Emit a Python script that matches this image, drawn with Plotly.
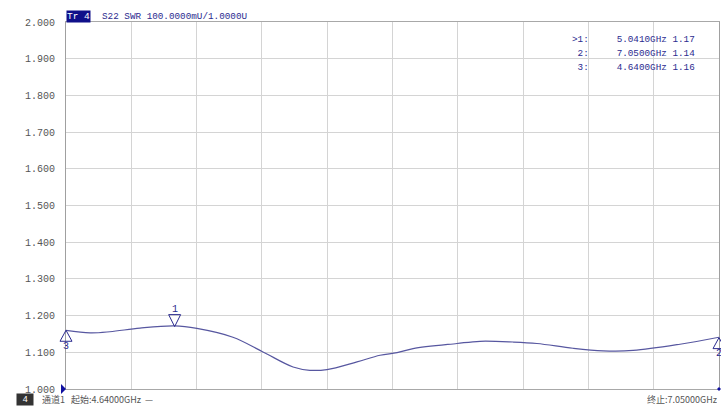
import plotly.graph_objects as go

# ---- data ----
freq_ghz = [4.640, 4.729, 4.802, 4.913, 5.041, 5.123, 5.256, 5.367, 5.478, 5.540,
            5.603, 5.714, 5.799, 5.862, 5.921, 6.083, 6.168, 6.290, 6.378, 6.511,
            6.622, 6.733, 6.906, 7.050]
swr = [1.160, 1.153, 1.156, 1.166, 1.172, 1.165, 1.141, 1.101, 1.060, 1.051,
       1.053, 1.074, 1.092, 1.099, 1.110, 1.124, 1.130, 1.128, 1.124, 1.111,
       1.104, 1.105, 1.122, 1.141]

marker_ids = ["1", "2", "3"]
marker_freq = [5.0410, 7.0500, 4.6400]
marker_val = [1.17, 1.14, 1.16]
marker_dir = ["down", "up", "up"]

y_ticks = [1.0 + 0.1 * i for i in range(11)]
x_start, x_stop = 4.64, 7.05
y_min, y_max = 1.0, 2.0

W, H = 721, 406
L, R, T, B = 66, 2, 22, 17
pw, ph = W - L - R, H - T - B

def px(xp):
    return (xp - L) / pw

def py(yp):
    return (H - B - yp) / ph

def fx(f):
    return (f - x_start) / (x_stop - x_start)

def vy(v):
    return (v - y_min) / (y_max - y_min)

NAVY = "#2b2b8f"
TRACE = "#5757a0"
MONO = "Liberation Mono, DejaVu Sans Mono, Noto Sans CJK SC"
CJK = "Noto Sans CJK SC"

fig = go.Figure()
fig.add_trace(go.Scatter(x=freq_ghz, y=swr, mode="lines",
                         line=dict(color=TRACE, width=1.2, shape="spline", smoothing=1.0),
                         hoverinfo="skip", showlegend=False))

shapes = []
annotations = []
for mid, f, v, d in zip(marker_ids, marker_freq, marker_val, marker_dir):
    if d == "down":
        path = "M-6,12 L6,12 L0,0 Z"
        ys = 17
    else:
        path = "M-6,-11 L6,-11 L0,0 Z"
        ys = -16
    shapes.append(dict(type="path", xref="paper", yref="paper", xsizemode="pixel",
                       ysizemode="pixel", xanchor=fx(f), yanchor=vy(v), path=path,
                       line=dict(color=NAVY, width=1), fillcolor="rgba(0,0,0,0)"))
    annotations.append(dict(x=fx(f), y=vy(v), xref="paper", yref="paper", text=mid,
                            showarrow=False, yshift=ys, xanchor="center", yanchor="middle",
                            font=dict(family=MONO, size=10, color=NAVY)))

# marker table
for i, (mid, f, v) in enumerate(zip(marker_ids, marker_freq, marker_val)):
    prefix = ">" if i == 0 else " "
    txt = f"{prefix}{mid}:     {f:.4f}GHz {v:.2f}"
    annotations.append(dict(x=px(697), y=py(39 + 14 * i), xref="paper", yref="paper",
                            text=txt.replace(" ", "&nbsp;"), showarrow=False,
                            xanchor="right", yanchor="middle",
                            font=dict(family=MONO, size=9.3, color=NAVY)))

# header
annotations.append(dict(x=px(66), y=py(17), xref="paper", yref="paper", text="Tr&nbsp;4",
                        showarrow=False, xanchor="left", yanchor="middle",
                        bgcolor="#10108a", borderpad=0,
                        font=dict(family=MONO, size=9.5, color="white")))
annotations.append(dict(x=px(100), y=py(17), xref="paper", yref="paper",
                        text="S22&nbsp;SWR&nbsp;100.0000mU/1.0000U",
                        showarrow=False, xanchor="left", yanchor="middle",
                        font=dict(family=MONO, size=9.3, color=NAVY)))

# footer
FY = 400
annotations.append(dict(x=px(16), y=py(FY), xref="paper", yref="paper", text="&nbsp;4&nbsp;",
                        showarrow=False, xanchor="left", yanchor="middle",
                        bgcolor="#333333", borderpad=0, height=11,
                        font=dict(family=MONO, size=9, color="white")))
annotations.append(dict(x=px(40), y=py(FY), xref="paper", yref="paper",
                        text="通道1&nbsp;&nbsp;&nbsp;起始:4.64000GHz&nbsp;&nbsp;—",
                        showarrow=False, xanchor="left", yanchor="middle", height=11,
                        font=dict(family=CJK, size=9, color="#555555")))
annotations.append(dict(x=px(719), y=py(FY), xref="paper", yref="paper",
                        text="终止:7.05000GHz",
                        showarrow=False, xanchor="right", yanchor="middle", height=11,
                        font=dict(family=CJK, size=9, color="#555555")))

# reference level triangle at left, small marker at bottom-right
shapes.append(dict(type="path", xref="paper", yref="paper", xsizemode="pixel", ysizemode="pixel",
                   xanchor=0, yanchor=0, path="M-5,-5 L0,0 L-5,5 Z",
                   line=dict(color="#1010a0", width=0), fillcolor="#1010a0"))
shapes.append(dict(type="path", xref="paper", yref="paper", xsizemode="pixel", ysizemode="pixel",
                   xanchor=1, yanchor=0, path="M-2,0 L0,2 L2,0 L0,-2 Z",
                   line=dict(color="#1010a0", width=0), fillcolor="#1010a0"))

fig.update_layout(
    width=W, height=H,
    margin=dict(l=L, r=R, t=T, b=B),
    paper_bgcolor="white", plot_bgcolor="white",
    shapes=shapes, annotations=annotations,
    xaxis=dict(range=[x_start, x_stop], tick0=x_start, dtick=(x_stop - x_start) / 10,
               showticklabels=False, showgrid=True, gridcolor="#d4d4d4", gridwidth=1,
               zeroline=False, showline=True, linecolor="#a8a8a8", mirror=True,
               ticks=""),
    yaxis=dict(range=[y_min, y_max], tickvals=y_ticks,
               ticktext=[f"{t:.3f}" for t in y_ticks],
               showgrid=True, gridcolor="#d4d4d4", gridwidth=1,
               zeroline=False, showline=True, linecolor="#a0a0a0", mirror=True,
               ticks="", ticklabelstandoff=8,
               tickfont=dict(family=MONO, size=10, color="#555555")),
    font=dict(family=MONO),
)

fig.write_html("out.html")
